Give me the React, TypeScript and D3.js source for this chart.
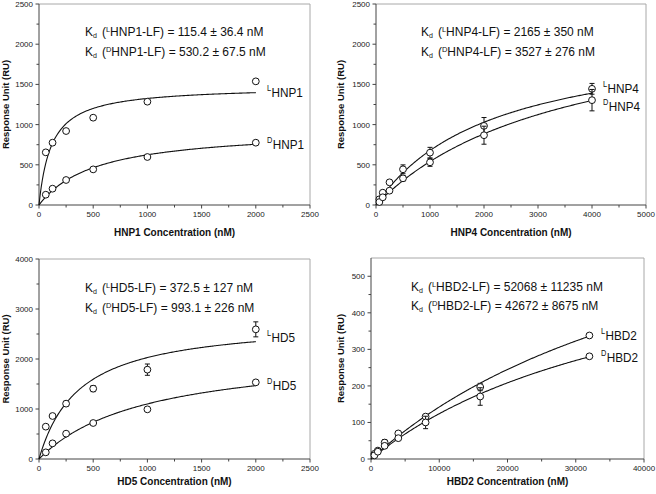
import React from 'react';
import * as d3 from 'd3';

// ---- data ----
const hnp1Conc = [62.5, 125, 250, 500, 1000, 2000];
const hnp1L = [655, 775, 920, 1086, 1285, 1538];
const hnp1LErr = [0, 0, 0, 25, 0, 0];
const hnp1D = [128, 203, 311, 443, 597, 775];
const hnp1DErr = [0, 0, 0, 0, 0, 0];

const hnp4Conc = [62.5, 125, 250, 500, 1000, 2000, 4000];
const hnp4L = [71, 153, 282, 444, 651, 984, 1445];
const hnp4LErr = [0, 0, 0, 55, 66, 104, 67];
const hnp4D = [37, 96, 178, 332, 531, 868, 1304];
const hnp4DErr = [0, 0, 0, 33, 50, 112, 133];

const hd5Conc = [62.5, 125, 250, 500, 1000, 2000];
const hd5L = [647, 860, 1107, 1407, 1787, 2593];
const hd5LErr = [40, 40, 50, 60, 113, 150];
const hd5D = [133, 313, 507, 720, 993, 1533];
const hd5DErr = [0, 0, 0, 0, 0, 0];

const hbd2Conc = [500, 1000, 2000, 4000, 8000, 16000, 32000];
const hbd2L = [14, 23, 45, 70, 116, 197, 338];
const hbd2LErr = [0, 0, 8, 0, 0, 10, 0];
const hbd2D = [10, 20, 36, 57, 100, 171, 281];
const hbd2DErr = [0, 0, 5, 5, 17, 24, 0];

// one-site binding fits: Kd from the figure text, Bmax estimated from the curves
const kdL = [115.4, 2165, 372.5, 52068];
const kdD = [530.2, 3527, 993.1, 42672];
const bmaxL = [1478, 2144, 2784, 883];
const bmaxD = [955, 2446, 2195, 653];

const kdTextL = ['115.4 ± 36.4', '2165 ± 350', '372.5 ± 127', '52068 ± 11235'];
const kdTextD = ['530.2 ± 67.5', '3527 ± 276', '993.1 ± 226', '42672 ± 8675'];
const peptides = ['HNP1', 'HNP4', 'HD5', 'HBD2'];

const FONT = 'Liberation Sans, Arial, sans-serif';

type PanelProps = {
  idx: number;
  box: { l: number; r: number; t: number; b: number };
  xMax: number; xStep: number;
  yMax: number; yTop: number; yStep: number;
  conc: number[];
  L: number[]; LErr: number[];
  D: number[]; DErr: number[];
  ann: { x: number; y1: number; y2: number };
  lab: { x: number; yL: number; yD: number };
  yTitleX: number; xTitleY: number;
};

const Panel = (p: PanelProps) => {
  const { box } = p;
  const x = d3.scaleLinear().domain([0, p.xMax]).range([box.l, box.r]);
  const y = d3.scaleLinear().domain([0, p.yTop]).range([box.b, box.t]);
  const xMajor = d3.range(0, p.xMax + 1, p.xStep);
  const xMinor = d3.range(p.xStep / 2, p.xMax, p.xStep);
  const yMajor = d3.range(0, p.yMax + 1, p.yStep);
  const yMinor = d3.range(p.yStep / 2, p.yTop, p.yStep);
  const xEnd = p.conc[p.conc.length - 1];
  const fit = (bmax: number, kd: number) =>
    d3.line<number>().x((c) => x(c)).y((c) => y((bmax * c) / (kd + c)))(d3.range(0, xEnd + 1e-9, xEnd / 200));
  const name = peptides[p.idx];

  const points = (vals: number[], errs: number[]) =>
    vals.map((v, i) => {
      const cx = x(p.conc[i]);
      const e = errs[i];
      return (
        <g key={i}>
          {e > 0 && (
            <g stroke="#111" strokeWidth={1}>
              <line x1={cx} x2={cx} y1={y(v - e)} y2={y(v + e)} />
              <line x1={cx - 2.5} x2={cx + 2.5} y1={y(v - e)} y2={y(v - e)} />
              <line x1={cx - 2.5} x2={cx + 2.5} y1={y(v + e)} y2={y(v + e)} />
            </g>
          )}
          <circle cx={cx} cy={y(v)} r={3.4} fill="white" stroke="#111" strokeWidth={1} />
        </g>
      );
    });

  const annLine = (sup: string, txt: string, yy: number) => (
    <text x={p.ann.x} y={yy} fontSize={12} fontFamily={FONT} fill="#111">
      K<tspan fontSize={7} dy={2}>d</tspan>
      <tspan dy={-2} dx={5}>(</tspan>
      <tspan fontSize={7.5} dy={-4.5}>{sup}</tspan>
      <tspan dy={4.5}>{`${name}-LF) = ${txt} nM`}</tspan>
    </text>
  );

  const seriesLabel = (sup: string, yy: number) => (
    <text transform={`translate(${p.lab.x},${yy}) scale(0.87,1)`} fontSize={13.5} fontFamily={FONT} fill="#111">
      <tspan fontSize={8.5} dy={-6}>{sup}</tspan>
      <tspan dy={6} dx={0.5}>{name}</tspan>
    </text>
  );

  return (
    <g>
      {/* frame */}
      <line x1={box.l} x2={box.r} y1={box.t} y2={box.t} stroke="#a8a8a8" />
      <line x1={box.r} x2={box.r} y1={box.t} y2={box.b} stroke="#a8a8a8" />
      <line x1={box.l} x2={box.l} y1={box.t} y2={box.b} stroke="#444" />
      <line x1={box.l} x2={box.r} y1={box.b} y2={box.b} stroke="#444" />
      {/* ticks */}
      {xMajor.map((t) => (
        <g key={'xm' + t}>
          <line x1={x(t)} x2={x(t)} y1={box.b} y2={box.b + 3.5} stroke="#444" />
          <text x={x(t)} y={box.b + 11.5} fontSize={8} fontFamily={FONT} textAnchor="middle" fill="#222">{t}</text>
        </g>
      ))}
      {xMinor.map((t) => (
        <line key={'xn' + t} x1={x(t)} x2={x(t)} y1={box.b} y2={box.b + 2.5} stroke="#444" />
      ))}
      {yMajor.map((t) => (
        <g key={'ym' + t}>
          <line x1={box.l - 3.5} x2={box.l} y1={y(t)} y2={y(t)} stroke="#444" />
          <text x={box.l - 6} y={y(t) + 3} fontSize={8} fontFamily={FONT} textAnchor="end" fill="#222">{t}</text>
        </g>
      ))}
      {yMinor.map((t) => (
        <line key={'yn' + t} x1={box.l - 2.5} x2={box.l} y1={y(t)} y2={y(t)} stroke="#444" />
      ))}
      {/* axis titles */}
      <text x={(box.l + box.r) / 2} y={p.xTitleY} fontSize={10} fontWeight="bold" fontFamily={FONT} textAnchor="middle" fill="#111">
        {`${name} Concentration (nM)`}
      </text>
      <text
        transform={`translate(${p.yTitleX},${(box.t + box.b) / 2}) rotate(-90)`}
        fontSize={9.5} fontWeight="bold" fontFamily={FONT} textAnchor="middle" fill="#111"
      >
        Response Unit (RU)
      </text>
      {/* fits */}
      <path d={fit(bmaxL[p.idx], kdL[p.idx]) ?? ''} fill="none" stroke="#111" strokeWidth={1.1} />
      <path d={fit(bmaxD[p.idx], kdD[p.idx]) ?? ''} fill="none" stroke="#111" strokeWidth={1.1} />
      {points(p.L, p.LErr)}
      {points(p.D, p.DErr)}
      {annLine('L', kdTextL[p.idx], p.ann.y1)}
      {annLine('D', kdTextD[p.idx], p.ann.y2)}
      {seriesLabel('L', p.lab.yL)}
      {seriesLabel('D', p.lab.yD)}
    </g>
  );
};

const App = () => (
  <svg width={656} height={494} style={{ position: 'absolute', left: 0, top: 0, background: 'white' }}>
    <Panel idx={0} box={{ l: 39, r: 310, t: 4, b: 205 }} xMax={2500} xStep={500} yMax={2500} yTop={2500} yStep={500}
      conc={hnp1Conc} L={hnp1L} LErr={hnp1LErr} D={hnp1D} DErr={hnp1DErr}
      ann={{ x: 85, y1: 36, y2: 56 }} lab={{ x: 267, yL: 97, yD: 149 }} yTitleX={8.5} xTitleY={236} />
    <Panel idx={1} box={{ l: 376, r: 646, t: 4, b: 205 }} xMax={5000} xStep={1000} yMax={2500} yTop={2500} yStep={500}
      conc={hnp4Conc} L={hnp4L} LErr={hnp4LErr} D={hnp4D} DErr={hnp4DErr}
      ann={{ x: 421, y1: 36, y2: 56 }} lab={{ x: 603, yL: 93, yD: 111 }} yTitleX={344} xTitleY={236} />
    <Panel idx={2} box={{ l: 39, r: 310, t: 259, b: 459 }} xMax={2500} xStep={500} yMax={4000} yTop={4000} yStep={1000}
      conc={hd5Conc} L={hd5L} LErr={hd5LErr} D={hd5D} DErr={hd5DErr}
      ann={{ x: 85, y1: 292, y2: 312 }} lab={{ x: 267, yL: 342, yD: 390 }} yTitleX={8.5} xTitleY={485} />
    <Panel idx={3} box={{ l: 371, r: 644, t: 258, b: 459 }} xMax={40000} xStep={10000} yMax={500} yTop={550} yStep={100}
      conc={hbd2Conc} L={hbd2L} LErr={hbd2LErr} D={hbd2D} DErr={hbd2DErr}
      ann={{ x: 411, y1: 291, y2: 310 }} lab={{ x: 601, yL: 340, yD: 362 }} yTitleX={344} xTitleY={485} />
  </svg>
);

export default App;
